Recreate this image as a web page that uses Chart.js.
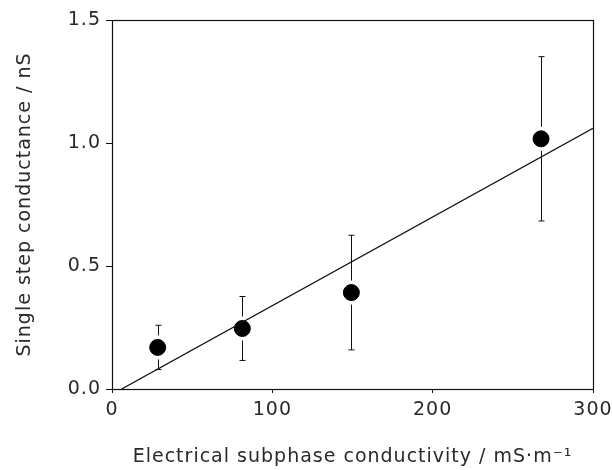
<!DOCTYPE html>
<html>
<head>
<meta charset="utf-8">
<script src="https://cdn.jsdelivr.net/npm/chart.js@4/dist/chart.umd.min.js"></script>
<style>
  html, body { margin: 0; padding: 0; background: #fff; }
  #wrap { width: 613px; height: 470px; }
</style>
</head>
<body>
<div id="wrap"><canvas id="grafico"></canvas></div>
<script>
// data
var conductividad = [28.5, 81.3, 149.3, 267.6];
var conductancia = [0.169, 0.246, 0.392, 1.017];
var errores = [0.09, 0.13, 0.233, 0.334];
var ajusteX = [6, 300];
var ajusteY = [0, 1.06];
var ticksX = [0, 100, 200, 300];
var ticksY = [0, 0.5, 1.0, 1.5];

var puntos = conductividad.map(function (x, i) { return { x: x, y: conductancia[i] }; });
var linea = ajusteX.map(function (x, i) { return { x: x, y: ajusteY[i] }; });

var fuente = 'DejaVu Sans';

// vertical error bars with caps, and the frame around the plot
var barrasError = {
    id: 'barrasError',
    beforeDraw: function (chart) {
        chart.ctx.letterSpacing = '1px';
    },
    beforeDatasetsDraw: function (chart) {
        var ctx = chart.ctx;
        var sx = chart.scales.x, sy = chart.scales.y;
        var r = 8, gap = 4, cap = 3;
        ctx.save();
        ctx.strokeStyle = '#111';
        ctx.lineWidth = 1;
        conductividad.forEach(function (x, i) {
            var px = Math.round(sx.getPixelForValue(x)) + 0.5;
            var py = sy.getPixelForValue(conductancia[i]);
            var top = sy.getPixelForValue(conductancia[i] + errores[i]);
            var bot = sy.getPixelForValue(conductancia[i] - errores[i]);
            ctx.beginPath();
            ctx.moveTo(px, top); ctx.lineTo(px, py - r - gap);
            ctx.moveTo(px, py + r + gap); ctx.lineTo(px, bot);
            ctx.moveTo(px - cap, top); ctx.lineTo(px + cap, top);
            ctx.moveTo(px - cap, bot); ctx.lineTo(px + cap, bot);
            ctx.stroke();
        });
        ctx.restore();
    },
    afterDraw: function (chart) {
        var a = chart.chartArea, ctx = chart.ctx;
        ctx.save();
        ctx.strokeStyle = '#111';
        ctx.lineWidth = 1.2;
        ctx.strokeRect(Math.round(a.left) + 0.5, Math.round(a.top) + 0.5,
            Math.round(a.right - a.left), Math.round(a.bottom - a.top));
        ctx.restore();
    }
};

var ctx = document.getElementById('grafico').getContext('2d');
var myChart = new Chart(ctx, {
    type: 'scatter',
    data: {
        datasets: [{
            label: 'ajuste',
            data: linea,
            showLine: true,
            borderColor: '#111',
            borderWidth: 1.3,
            pointRadius: 0,
            fill: false
        }, {
            label: 'medidas',
            data: puntos,
            backgroundColor: '#000',
            borderColor: '#000',
            pointRadius: 8,
            pointHoverRadius: 8
        }]
    },
    options: {
        responsive: true,
        maintainAspectRatio: false,
        animation: false,
        layout: { padding: { left: 0, right: 20, top: 20, bottom: 0 } },
        plugins: {
            legend: { display: false },
            tooltip: { enabled: false }
        },
        scales: {
            x: {
                type: 'linear',
                min: 0,
                max: 300,
                afterBuildTicks: function (s) { s.ticks = ticksX.map(function (v) { return { value: v }; }); },
                afterFit: function (s) { s.height = 81; s.paddingLeft = 0; s.paddingRight = 0; },
                grid: { drawOnChartArea: false, drawTicks: true, tickLength: 4, color: '#111' },
                border: { display: false },
                ticks: { color: '#2a2a2a', padding: 6, font: { family: fuente, size: 19 }, maxRotation: 0 },
                title: {
                    display: true,
                    text: 'Electrical subphase conductivity / mS\u00b7m\u207b\u00b9',
                    color: '#2a2a2a',
                    font: { family: fuente, size: 19 },
                    padding: { top: 0, bottom: 2 }
                }
            },
            y: {
                type: 'linear',
                min: 0,
                max: 1.5,
                afterBuildTicks: function (s) { s.ticks = ticksY.map(function (v) { return { value: v }; }); },
                afterFit: function (s) { s.width = 112; s.paddingTop = 0; s.paddingBottom = 0; },
                grid: { drawOnChartArea: false, drawTicks: true, tickLength: 6, color: '#111' },
                border: { display: false },
                ticks: {
                    color: '#2a2a2a',
                    padding: 5,
                    font: { family: fuente, size: 19 },
                    callback: function (v) { return v.toFixed(1); }
                },
                title: {
                    display: true,
                    text: 'Single step conductance / nS',
                    color: '#2a2a2a',
                    font: { family: fuente, size: 19 },
                    padding: { top: 14, bottom: 0 }
                }
            }
        }
    },
    plugins: [barrasError]
});
</script>
</body>
</html>
